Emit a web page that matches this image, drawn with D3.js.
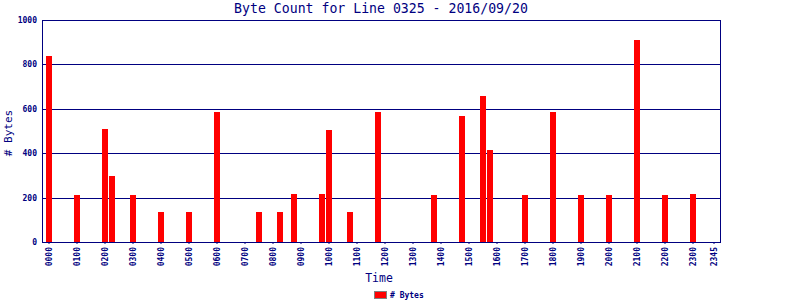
<!DOCTYPE html>
<html>
<head>
<meta charset="utf-8">
<script src="https://cdn.jsdelivr.net/npm/d3@7/dist/d3.min.js"></script>
<style>
  html, body { margin: 0; padding: 0; background: #fff; }
  svg { display: block; }
  text { font-family: "DejaVu Sans Mono", monospace; fill: #000080; }
</style>
</head>
<body>
<svg id="chart" width="800" height="300"></svg>
<script>
// ---- data ----
const title = "Byte Count for Line 0325 - 2016/09/20";
const yLabel = "# Bytes";
const xLabel = "Time";
const seriesName = "# Bytes";

// all 15-minute slots of the day
const hours = ["00","01","02","03","04","05","06","07","08","09","10","11",
               "12","13","14","15","16","17","18","19","20","21","22","23"];
const quarters = ["00","15","30","45"];
const categories = [];
hours.forEach(h => quarters.forEach(q => categories.push(h + q)));

// x tick labels
const xTickLabels = ["0000","0100","0200","0300","0400","0500","0600","0700",
  "0800","0900","1000","1100","1200","1300","1400","1500","1600","1700",
  "1800","1900","2000","2100","2200","2300","2345"];
const yTickValues = [0, 200, 400, 600, 800, 1000];

// non-empty slots and their byte counts
const barTimes = ["0000","0100","0200","0215","0300","0400","0500","0600",
  "0730","0815","0845","0945","1000","1045","1145","1345","1445","1530",
  "1545","1700","1800","1900","2000","2100","2200","2300"];
const barValues = [840, 212, 509, 297, 212, 135, 135, 587,
  135, 135, 216, 216, 506, 135, 587, 212, 567, 658,
  414, 212, 585, 212, 212, 910, 212, 216];

// ---- chart ----
const svg = d3.select("#chart");
const plot = { left: 42, right: 720, top: 20, bottom: 242 };
const navy = "#000080";

const x = d3.scaleBand()
  .domain(categories)
  .range([46, 717])
  .paddingInner(1 / 7)
  .paddingOuter(0);

const y = d3.scaleLinear()
  .domain([0, 1000])
  .range([plot.bottom, plot.top]);

// gridlines
svg.append("g")
  .selectAll("line")
  .data(yTickValues.filter(v => v > 0 && v < 1000))
  .join("line")
  .attr("x1", plot.left).attr("x2", plot.right)
  .attr("y1", d => Math.round(y(d)) + 0.5).attr("y2", d => Math.round(y(d)) + 0.5)
  .attr("stroke", navy).attr("stroke-width", 1)
  .attr("shape-rendering", "crispEdges");

// bars
const bars = barTimes.map((t, i) => ({ t, v: barValues[i] }));
svg.append("g")
  .selectAll("rect")
  .data(bars)
  .join("rect")
  .attr("x", d => x(d.t))
  .attr("width", x.bandwidth())
  .attr("y", d => y(d.v))
  .attr("height", d => y(0) - y(d.v))
  .attr("fill", "#ff0000")
  .attr("shape-rendering", "crispEdges");

// frame
svg.append("rect")
  .attr("x", plot.left + 0.5).attr("y", plot.top + 0.5)
  .attr("width", plot.right - plot.left).attr("height", plot.bottom - plot.top)
  .attr("fill", "none").attr("stroke", navy).attr("stroke-width", 1)
  .attr("shape-rendering", "crispEdges");

// y axis
const yAxis = d3.axisLeft(y).tickValues(yTickValues).tickFormat(d3.format("d"))
  .tickSize(0).tickPadding(5);
const yg = svg.append("g").attr("transform", `translate(${plot.left},0)`).call(yAxis);
yg.select(".domain").remove();
yg.selectAll("text")
  .style("font-size", "8px").style("font-weight", "bold")
  .attr("fill", navy);

// x axis
const xAxis = d3.axisBottom(x).tickValues(xTickLabels).tickSize(2).tickPadding(3);
const xg = svg.append("g").attr("transform", `translate(0,${plot.bottom})`).call(xAxis);
xg.select(".domain").remove();
xg.selectAll("line").attr("stroke", navy);
xg.selectAll("text")
  .style("font-size", "8px").style("font-weight", "bold")
  .attr("fill", navy)
  .attr("transform", "rotate(-90)")
  .attr("text-anchor", "end")
  .attr("dy", "0.32em")
  .attr("x", -5)
  .attr("y", 0);

// title
svg.append("text")
  .attr("x", (plot.left + plot.right) / 2).attr("y", 13)
  .attr("text-anchor", "middle")
  .style("font-size", "13.2px")
  .text(title);

// y label
svg.append("text")
  .attr("transform", `translate(12,133) rotate(-90)`)
  .attr("text-anchor", "middle")
  .style("font-size", "11px")
  .text(yLabel);

// x label
svg.append("text")
  .attr("x", 379).attr("y", 282)
  .attr("text-anchor", "middle")
  .style("font-size", "11.5px")
  .text(xLabel);

// legend
svg.append("rect")
  .attr("x", 374.5).attr("y", 291.5).attr("width", 12).attr("height", 7)
  .attr("fill", "#ff0000").attr("stroke", "#808080").attr("stroke-width", 1);
svg.append("text")
  .attr("x", 390).attr("y", 298)
  .style("font-size", "8px").style("font-weight", "bold")
  .text(seriesName);
</script>
</body>
</html>
